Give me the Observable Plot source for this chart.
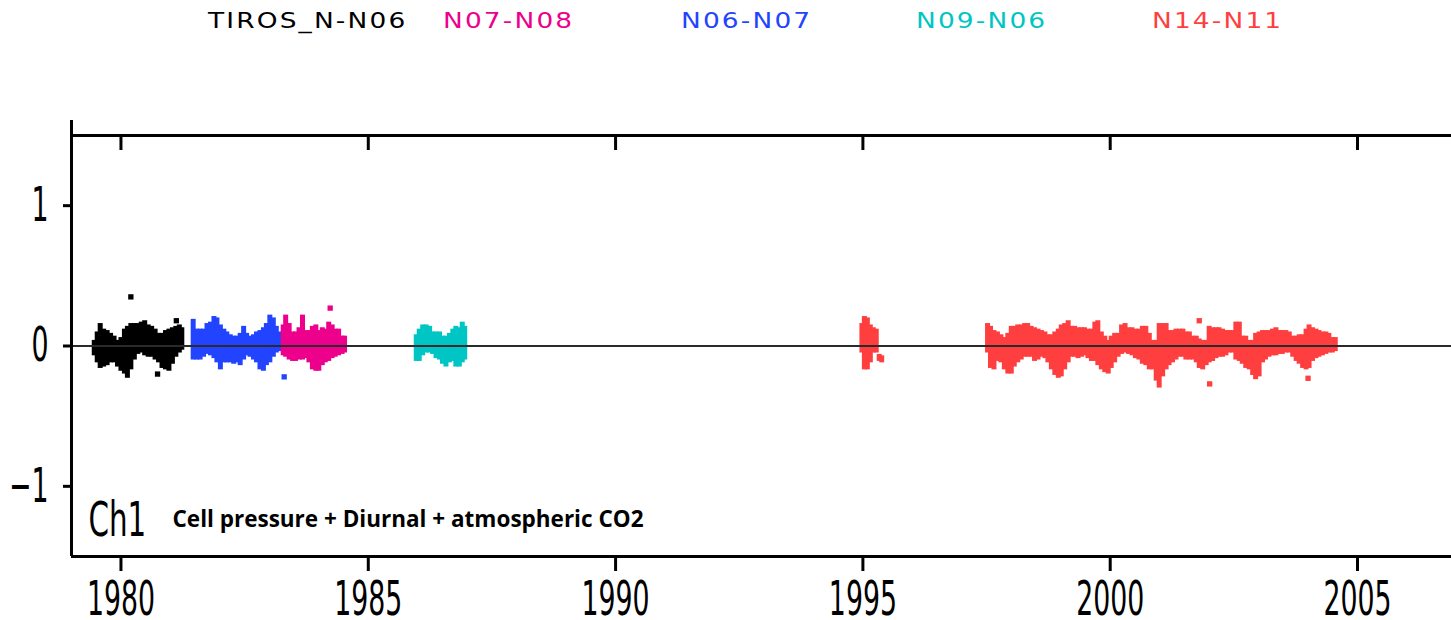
<!DOCTYPE html>
<html><head><meta charset="utf-8">
<script src="https://cdn.jsdelivr.net/npm/d3@7"></script>
<script src="https://cdn.jsdelivr.net/npm/@observablehq/plot@0.6"></script>
<style>
html,body{margin:0;padding:0;background:#fff;}
body{width:1451px;height:620px;overflow:hidden;}
#legend{position:relative;height:100px;width:1451px;}
#legend span{position:absolute;top:9px;font-family:"DejaVu Sans",sans-serif;font-size:22px;letter-spacing:1.8px;line-height:24px;white-space:nowrap;transform:scaleX(1.2);transform-origin:0 0;}
#chart svg{display:block;}
</style></head><body>
<div id="legend"></div>
<div id="chart"></div>
<script>
// ---- series (legend order) ----
const seriesNames  = ["TIROS_N-N06", "N07-N08", "N06-N07", "N09-N06", "N14-N11"];
const seriesColors = ["#000000", "#ec008c", "#2244ff", "#00c5c5", "#ff3f3f"];

// ---- data: [year, low, high] of the point cloud in each time slice ----
const tirosN06 = [[1979.46,-0.07,0.04],[1979.52,-0.12,0.10],[1979.58,-0.16,0.16],[1979.65,-0.15,0.12],[1979.72,-0.14,0.11],[1979.79,-0.12,0.09],[1979.86,-0.12,0.07],[1979.93,-0.15,0.04],[1980.00,-0.18,0.06],[1980.07,-0.20,0.12],[1980.13,-0.23,0.14],[1980.20,-0.17,0.16],[1980.27,-0.10,0.16],[1980.34,-0.06,0.16],[1980.41,-0.05,0.17],[1980.48,-0.07,0.18],[1980.55,-0.08,0.15],[1980.62,-0.08,0.14],[1980.69,-0.10,0.12],[1980.76,-0.12,0.09],[1980.83,-0.16,0.09],[1980.90,-0.17,0.11],[1980.97,-0.18,0.12],[1981.04,-0.13,0.13],[1981.11,-0.08,0.14],[1981.18,-0.05,0.15],[1981.23,-0.03,0.13]];
const n06n07 = [[1981.46,-0.10,0.19],[1981.53,-0.10,0.12],[1981.60,-0.10,0.12],[1981.67,-0.08,0.12],[1981.74,-0.06,0.16],[1981.81,-0.07,0.17],[1981.88,-0.09,0.21],[1981.94,-0.12,0.20],[1982.01,-0.17,0.15],[1982.08,-0.12,0.12],[1982.14,-0.12,0.10],[1982.21,-0.12,0.08],[1982.28,-0.13,0.07],[1982.34,-0.12,0.07],[1982.41,-0.14,0.09],[1982.48,-0.10,0.14],[1982.54,-0.07,0.09],[1982.61,-0.08,0.07],[1982.68,-0.10,0.08],[1982.74,-0.12,0.10],[1982.81,-0.17,0.11],[1982.88,-0.18,0.13],[1982.94,-0.14,0.16],[1983.01,-0.12,0.22],[1983.08,-0.08,0.20],[1983.14,-0.05,0.14],[1983.21,-0.04,0.10],[1983.28,-0.03,0.08]];
const n07n08 = [[1983.28,-0.07,0.15],[1983.33,-0.08,0.22],[1983.40,-0.10,0.16],[1983.47,-0.11,0.10],[1983.53,-0.11,0.10],[1983.60,-0.10,0.13],[1983.67,-0.10,0.22],[1983.73,-0.09,0.11],[1983.80,-0.12,0.11],[1983.87,-0.17,0.14],[1983.94,-0.18,0.15],[1984.00,-0.18,0.11],[1984.07,-0.14,0.13],[1984.13,-0.12,0.12],[1984.20,-0.11,0.17],[1984.27,-0.09,0.15],[1984.33,-0.08,0.12],[1984.40,-0.07,0.12],[1984.47,-0.06,0.07],[1984.52,-0.05,0.07]];
const n09n06 = [[1985.97,-0.11,0.08],[1986.03,-0.11,0.12],[1986.10,-0.07,0.15],[1986.17,-0.05,0.15],[1986.24,-0.05,0.14],[1986.30,-0.06,0.10],[1986.37,-0.09,0.10],[1986.44,-0.10,0.10],[1986.50,-0.13,0.07],[1986.57,-0.15,0.07],[1986.64,-0.12,0.09],[1986.71,-0.11,0.12],[1986.77,-0.15,0.14],[1986.84,-0.15,0.13],[1986.90,-0.12,0.17],[1986.95,-0.10,0.14]];
const n14n11 = [[1994.98,-0.05,0.16],[1995.03,-0.17,0.21],[1995.09,-0.17,0.20],[1995.15,-0.12,0.15],[1995.21,-0.05,0.13],[1995.27,-0.05,0.12],[1995.33,-0.11,-0.06],[1995.38,-0.12,-0.07],
[1997.52,-0.05,0.16],[1997.58,-0.16,0.14],[1997.65,-0.17,0.11],[1997.72,-0.11,0.10],[1997.79,-0.12,0.08],[1997.86,-0.17,0.06],[1997.93,-0.20,0.09],[1998.00,-0.20,0.14],[1998.06,-0.15,0.14],[1998.13,-0.12,0.15],[1998.20,-0.10,0.15],[1998.27,-0.08,0.16],[1998.33,-0.08,0.16],[1998.40,-0.08,0.14],[1998.47,-0.11,0.13],[1998.54,-0.10,0.12],[1998.61,-0.08,0.11],[1998.68,-0.09,0.10],[1998.74,-0.12,0.08],[1998.81,-0.17,0.08],[1998.88,-0.21,0.10],[1998.95,-0.23,0.12],[1999.01,-0.22,0.15],[1999.08,-0.17,0.16],[1999.15,-0.12,0.18],[1999.21,-0.08,0.14],[1999.28,-0.08,0.14],[1999.35,-0.09,0.13],[1999.42,-0.08,0.13],[1999.48,-0.07,0.13],[1999.55,-0.09,0.12],[1999.62,-0.11,0.12],[1999.69,-0.11,0.17],[1999.75,-0.14,0.18],[1999.82,-0.17,0.10],[1999.89,-0.19,0.07],[1999.96,-0.20,0.04],[2000.02,-0.16,0.07],[2000.09,-0.12,0.09],[2000.16,-0.08,0.09],
[2000.23,-0.06,0.15],[2000.30,-0.05,0.16],[2000.37,-0.06,0.13],[2000.44,-0.07,0.13],[2000.51,-0.09,0.12],[2000.58,-0.10,0.12],[2000.65,-0.13,0.14],[2000.72,-0.14,0.14],[2000.79,-0.17,0.09],[2000.86,-0.17,0.04],[2000.93,-0.25,0.04],[2000.99,-0.30,0.16],[2001.06,-0.22,0.16],[2001.13,-0.17,0.16],[2001.19,-0.14,0.11],[2001.26,-0.12,0.11],[2001.33,-0.10,0.12],[2001.40,-0.08,0.12],[2001.47,-0.08,0.12],[2001.53,-0.10,0.10],[2001.60,-0.10,0.10],[2001.67,-0.10,0.07],[2001.74,-0.12,0.07],[2001.80,-0.16,0.05],[2001.87,-0.17,0.04],[2001.94,-0.14,0.04],[2002.00,-0.12,0.14],[2002.07,-0.11,0.13],[2002.14,-0.09,0.13],[2002.20,-0.08,0.13],[2002.27,-0.08,0.12],[2002.34,-0.07,0.11],[2002.40,-0.05,0.11],[2002.47,-0.05,0.11],[2002.54,-0.10,0.17],[2002.61,-0.11,0.17],[2002.67,-0.13,0.07],[2002.74,-0.16,0.07],[2002.81,-0.17,0.04],[2002.88,-0.21,0.04],[2002.94,-0.24,0.09],[2003.01,-0.22,0.10],[2003.08,-0.12,0.11],[2003.14,-0.10,0.11],[2003.21,-0.08,0.11],[2003.28,-0.07,0.12],[2003.35,-0.07,0.13],[2003.42,-0.06,0.11],[2003.48,-0.06,0.11],[2003.55,-0.05,0.11],[2003.62,-0.05,0.10],[2003.69,-0.08,0.07],[2003.76,-0.11,0.07],[2003.82,-0.13,0.08],[2003.89,-0.16,0.08],[2003.96,-0.17,0.12],[2004.02,-0.16,0.15],[2004.09,-0.11,0.13],[2004.16,-0.09,0.12],[2004.22,-0.08,0.11],[2004.29,-0.07,0.10],[2004.36,-0.06,0.10],[2004.42,-0.05,0.09],[2004.49,-0.05,0.06],[2004.55,-0.04,0.06]];

// isolated points: [series, year, value]
const outliers = [["TIROS_N-N06",1980.20,0.35],["TIROS_N-N06",1980.74,-0.20],["TIROS_N-N06",1981.12,0.18],["N06-N07",1983.30,-0.22],["N07-N08",1984.23,0.27],["N14-N11",2001.80,0.18],["N14-N11",2002.01,-0.27],["N14-N11",2004.00,-0.23]];

// ---- axes ----
const xDomain = [1979, 2006.9];
const yDomain = [-1.5, 1.5];
const xTicks = [1980, 1985, 1990, 1995, 2000, 2005];
const yTicks = [-1, 0, 1];
const channelLabel = "Ch1";
const noteLabel = "Cell pressure + Diurnal + atmospheric CO2";

// ---- build tables ----
const bySeries = {"TIROS_N-N06": tirosN06, "N06-N07": n06n07, "N07-N08": n07n08, "N09-N06": n09n06, "N14-N11": n14n11};
const drawOrder = ["TIROS_N-N06", "N06-N07", "N07-N08", "N09-N06", "N14-N11"];
const rows = drawOrder.flatMap(s => bySeries[s].map(([t, lo, hi]) => ({series: s, t, lo, hi})));
const pts = outliers.map(([series, t, v]) => ({series, t, v}));

// legend
const legendLeft = [208, 443, 681, 916, 1152];
const legend = document.getElementById("legend");
seriesNames.forEach((n, i) => {
  const s = document.createElement("span");
  s.textContent = n;
  s.style.left = legendLeft[i] + "px";
  s.style.color = seriesColors[i];
  legend.appendChild(s);
});

const tickFont = '"Liberation Sans Narrow", "DejaVu Sans Condensed", sans-serif';

const chart = Plot.plot({
  width: 1451, height: 520,
  marginLeft: 71, marginRight: 0, marginTop: 35, marginBottom: 64,
  x: {domain: xDomain, label: null},
  y: {domain: yDomain, label: null},
  color: {domain: seriesNames, range: seriesColors},
  style: {background: "white", overflow: "visible"},
  marks: [
    Plot.ruleX(rows, {x: "t", y1: "lo", y2: "hi", stroke: "series", strokeWidth: 5}),
    Plot.dot(pts, {x: "t", y: "v", fill: "series", symbol: "square", r: 3}),
    Plot.ruleY([0], {stroke: "#2a2a2a", strokeWidth: 2}),
    Plot.ruleY([yDomain[1]], {stroke: "black", strokeWidth: 3}),
    Plot.ruleY([yDomain[0]], {stroke: "black", strokeWidth: 3}),
    Plot.ruleX([xDomain[0]], {stroke: "black", strokeWidth: 3, insetTop: -15}),
    // inward ticks on top frame
    Plot.ruleX(xTicks, {x: d => d, y1: yDomain[1], y2: yDomain[1], insetBottom: -15, stroke: "black", strokeWidth: 3}),
    Plot.axisX(xTicks, {anchor: "bottom", tickSize: 15, tickPadding: 9, strokeWidth: 3, tickFormat: d => String(d),
      fontSize: 48, fontFamily: tickFont, label: null}),
    Plot.axisY(yTicks, {anchor: "left", tickSize: 8, tickPadding: 15, strokeWidth: 3,
      tickFormat: d => (d < 0 ? "\u2212" + (-d) : String(d)),
      fontSize: 48, fontFamily: tickFont, label: null}),
    Plot.text([channelLabel], {frameAnchor: "bottom-left", dx: 17, dy: -21, lineAnchor: "bottom", textAnchor: "start",
      fontSize: 48, fontFamily: tickFont, fill: "black"}),
    Plot.text([noteLabel], {frameAnchor: "bottom-left", dx: 101, dy: -37, lineAnchor: "middle", textAnchor: "start",
      fontSize: 22.5, fontWeight: "bold", fontFamily: '"Open Sans", sans-serif', fill: "black"})
  ]
});
document.getElementById("chart").appendChild(chart);

// condense the tall, narrow tick-label face
function squeeze(el, sx) {
  const x = +el.getAttribute("x") || 0, y = +el.getAttribute("y") || 0;
  const t = el.getAttribute("transform") || "";
  el.setAttribute("transform", `${t} translate(${x},${y}) scale(${sx},1) translate(${-x},${-y})`);
}
chart.querySelectorAll('g[aria-label="x-axis tick label"] text, g[aria-label="y-axis tick label"] text').forEach(el => squeeze(el, 0.62));
chart.querySelectorAll("text").forEach(el => { if (el.textContent === channelLabel) squeeze(el, 0.68); });
</script>
</body></html>
